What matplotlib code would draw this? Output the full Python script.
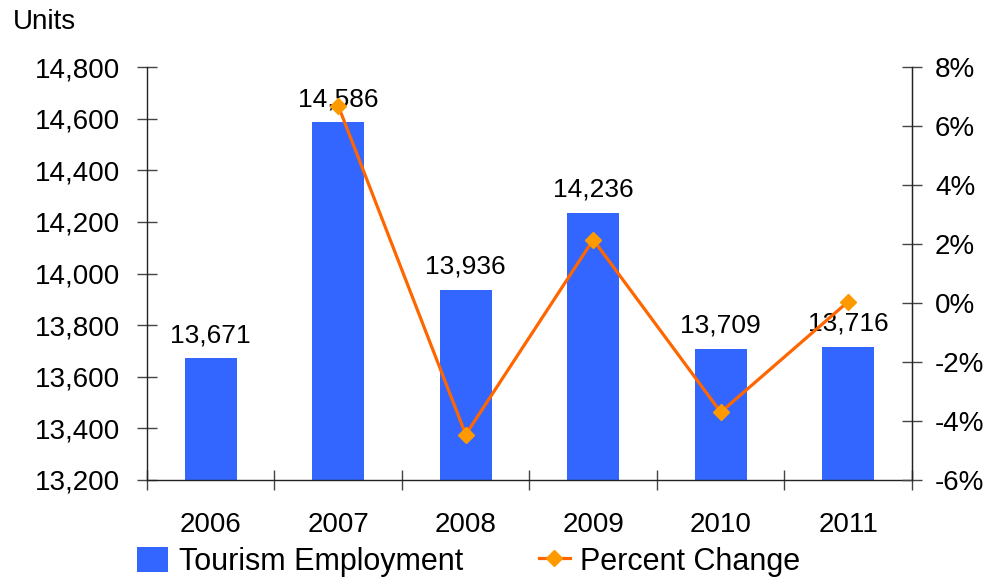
import matplotlib.pyplot as plt
from matplotlib.ticker import FuncFormatter, FixedLocator

plt.rcParams['font.family'] = ['Liberation Sans', 'DejaVu Sans']

# tourism employment by year
years = ["2006", "2007", "2008", "2009", "2010", "2011"]
employment = [13671, 14586, 13936, 14236, 13709, 13716]
# year-over-year percent change (none for the first year)
pct_change = [None, 6.69, -4.46, 2.15, -3.70, 0.05]

bar_color = "#3366FF"
line_color = "#FF6600"
marker_color = "#FF9900"

fig = plt.figure(figsize=(9.98, 5.79), dpi=100)
ax = fig.add_axes([0.1473, 0.171, 0.7665, 0.713])
x = list(range(len(years)))

bars = ax.bar(x, employment, width=0.41, color=bar_color, zorder=2,
              label="Tourism Employment")
ax.set_ylim(13200, 14800)
ax.set_xlim(-0.5, len(years) - 0.5)
ax.set_yticks(range(13200, 14801, 200))
ax.yaxis.set_major_formatter(FuncFormatter(lambda v, p: f"{int(v):,}"))

# value labels above the bars
for xi, v in zip(x, employment):
    ax.annotate(f"{v:,}", (xi, v), xytext=(0, 8), textcoords="offset points",
                ha="center", va="bottom", fontsize=19, zorder=3)

# year labels between boundary ticks
ax.xaxis.set_major_locator(FixedLocator([i - 0.5 for i in range(len(years) + 1)]))
ax.xaxis.set_minor_locator(FixedLocator(x))
ax.set_xticklabels([])
ax.set_xticklabels(years, minor=True)
ax.tick_params(axis="x", which="major", direction="inout", length=15,
               color="#444444", width=1)
ax.tick_params(axis="x", which="minor", length=0, pad=23, labelsize=20)
ax.tick_params(axis="y", direction="inout", length=15, color="#444444",
               width=1, pad=12, labelsize=20)

for s in ["top"]:
    ax.spines[s].set_visible(False)
for s in ["left", "right", "bottom"]:
    ax.spines[s].set_color("#222222")
    ax.spines[s].set_linewidth(1)

# percent change on the secondary axis
ax2 = ax.twinx()
px = [xi for xi, p in zip(x, pct_change) if p is not None]
py = [p for p in pct_change if p is not None]
ax2.plot(px, py, color=line_color, lw=2.3, marker="D", markersize=8,
         markerfacecolor=marker_color, markeredgecolor=marker_color,
         zorder=4, label="Percent Change")
ax2.set_ylim(-6, 8)
ax2.set_yticks(range(-6, 9, 2))
ax2.yaxis.set_major_formatter(FuncFormatter(lambda v, p: f"{int(v)}%"))
ax2.tick_params(axis="y", direction="inout", length=15, color="#444444",
                width=1, pad=9, labelsize=20)
for s in ["top", "left", "bottom"]:
    ax2.spines[s].set_visible(False)
ax2.spines["right"].set_color("#222222")

fig.text(0.013, 1 - 22 / 579, "Units", fontsize=20, va="center", ha="left")

handles = [bars, ax2.get_lines()[0]]
fig.legend(handles, ["Tourism Employment", "Percent Change"], ncol=2,
           loc="lower left", bbox_to_anchor=(0.110, -0.044), frameon=False,
           fontsize=22, handlelength=1.0, handleheight=0.9,
           handletextpad=0.35, columnspacing=2.5)

fig.savefig("out.png", dpi=100)
